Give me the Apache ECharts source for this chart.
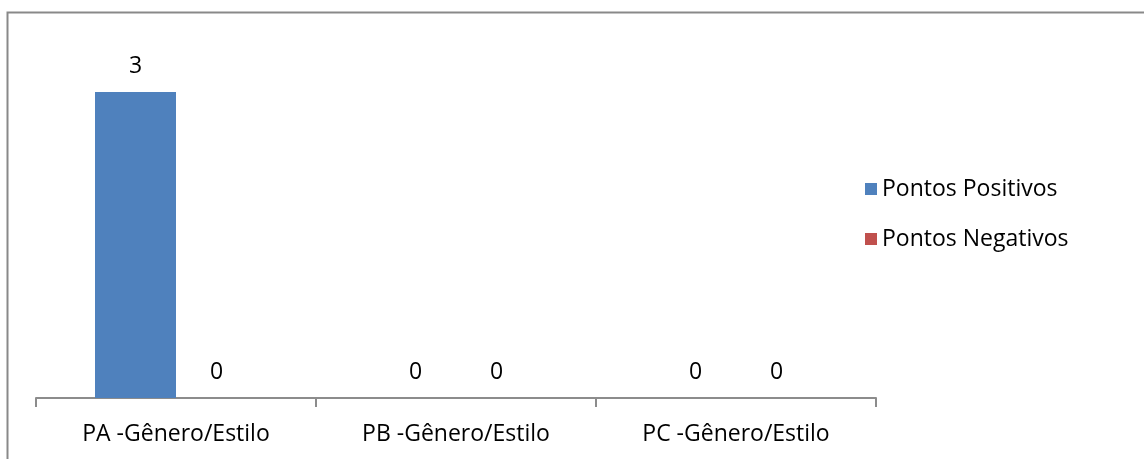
<!DOCTYPE html>
<html><head><meta charset="utf-8">
<script src="https://cdn.jsdelivr.net/npm/echarts@6/dist/echarts.min.js"></script>
<style>html,body{margin:0;padding:0;background:#fff}#c{width:1144px;height:459px}</style>
</head><body><div id="c"></div>
<script>
const categories = ['PA -Gênero/Estilo', 'PB -Gênero/Estilo', 'PC -Gênero/Estilo'];
const seriesNames = ['Pontos Positivos', 'Pontos Negativos'];
const positivos = [3, 0, 0];
const negativos = [0, 0, 0];

const FONT = 'Open Sans';
const chart = echarts.init(document.getElementById('c'));
chart.setOption({
  animation: false,
  textStyle: { fontFamily: FONT },
  graphic: [{
    type: 'rect', left: 5, top: 10, z: -1,
    shape: { width: 1300, height: 600 },
    style: { fill: 'none', stroke: '#898989', lineWidth: 2 }
  }],
  grid: { left: 36, right: 268, top: 92, bottom: 61 },
  legend: {
    orient: 'vertical', left: 865, top: 177, padding: 0,
    itemWidth: 12, itemHeight: 12, itemGap: 26,
    icon: 'rect',
    textStyle: { fontFamily: FONT, fontSize: 23, lineHeight: 24, color: '#000', padding: [0, 0, 0, 0] },
    data: seriesNames
  },
  xAxis: {
    type: 'category', data: categories,
    axisLine: { lineStyle: { color: '#8c8c8c', width: 2 } },
    axisTick: { show: true, interval: 0, alignWithLabel: false, length: 9, lineStyle: { color: '#8c8c8c', width: 2 } },
    axisLabel: { color: '#000', fontSize: 23, fontFamily: FONT, margin: 25, interval: 0 }
  },
  yAxis: { type: 'value', min: 0, max: 3, show: false, splitLine: { show: false } },
  series: [
    { name: seriesNames[0], type: 'bar', data: positivos, barWidth: 81, barGap: '0%',
      itemStyle: { color: '#4F81BD' },
      label: { show: true, position: 'top', distance: 14, color: '#000', fontSize: 23, fontFamily: FONT } },
    { name: seriesNames[1], type: 'bar', data: negativos, barWidth: 81,
      itemStyle: { color: '#C0504D' },
      label: { show: true, position: 'top', distance: 14, color: '#000', fontSize: 23, fontFamily: FONT } }
  ]
});
</script></body></html>
